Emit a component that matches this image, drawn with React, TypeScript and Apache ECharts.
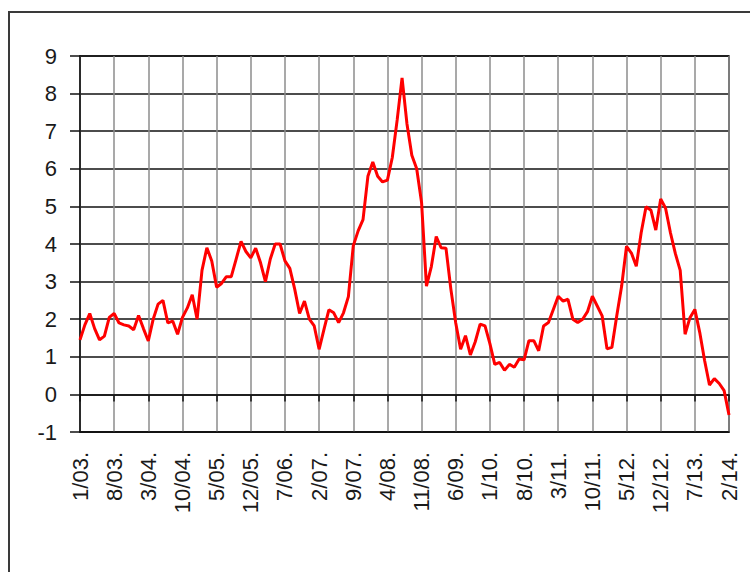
import React, { useEffect, useRef } from "react";
import * as echarts from "echarts";

// Monthly values, Jan 2003 .. Feb 2014 (134 months)
const VALUES: number[] = [
  1.45, 1.85, 2.15, 1.75, 1.45, 1.55, 2.05, 2.15, 1.9, 1.85,
  1.82, 1.72, 2.1, 1.75, 1.42, 2.0, 2.4, 2.5, 1.9, 1.95,
  1.6, 2.05, 2.3, 2.65, 2.0, 3.3, 3.9, 3.55, 2.85, 2.95,
  3.13, 3.13, 3.6, 4.07, 3.8, 3.63, 3.89, 3.5, 3.0, 3.6,
  4.0, 4.0, 3.55, 3.35, 2.8, 2.15, 2.48, 2.0, 1.82, 1.2,
  1.73, 2.25, 2.17, 1.91, 2.17, 2.6, 3.95, 4.35, 4.65, 5.8,
  6.18, 5.8, 5.65, 5.7, 6.3, 7.3, 8.42, 7.2, 6.36, 6.0,
  5.1, 2.88, 3.4, 4.2, 3.9, 3.89, 2.8, 1.9, 1.2, 1.56,
  1.05, 1.4, 1.87, 1.82, 1.35, 0.8, 0.85, 0.64, 0.8, 0.72,
  0.94, 0.92, 1.43, 1.43, 1.16, 1.82, 1.91, 2.26, 2.61, 2.48,
  2.53, 2.0, 1.91, 2.0, 2.2, 2.61, 2.35, 2.09, 1.21, 1.25,
  2.09, 2.88, 3.94, 3.76, 3.41, 4.3, 4.99, 4.9, 4.37, 5.2,
  4.95, 4.3, 3.75, 3.3, 1.6, 2.04, 2.26, 1.65, 0.9, 0.25,
  0.42, 0.29, 0.1, -0.55,
];

const TICK_LABELS: string[] = [
  "1/03.", "8/03.", "3/04.", "10/04.", "5/05.", "12/05.", "7/06.", "2/07.",
  "9/07.", "4/08.", "11/08.", "6/09.", "1/10.", "8/10.", "3/11.", "10/11.",
  "5/12.", "12/12.", "7/13.", "2/14.",
];

const START_YEAR = 2003;
const LABEL_STEP = 7;

const CATEGORIES: string[] = VALUES.map((_, i) => {
  const m = (i % 12) + 1;
  const y = (START_YEAR + Math.floor(i / 12)) % 100;
  return `${m}/${y < 10 ? "0" + y : y}.`;
});

const FONT = "'Liberation Sans', Arial, sans-serif";

export default function App() {
  const ref = useRef<HTMLDivElement>(null);
  useEffect(() => {
    if (!ref.current) return;
    const chart = echarts.init(ref.current, null, { renderer: "svg" });
    chart.setOption({
      animation: false,
      backgroundColor: "#ffffff",
      graphic: [
        {
          type: "rect",
          shape: { x: 9, y: 12, width: 800, height: 620 },
          style: { fill: "none", stroke: "#3a3a3a", lineWidth: 2 },
          z: -1,
        },
      ],
      grid: {
        left: 80,
        right: 21,
        top: 56,
        bottom: 140,
        show: true,
        borderColor: "#111",
        borderWidth: 1.5,
        backgroundColor: "transparent",
      },
      xAxis: [
        {
          type: "category",
          data: CATEGORIES,
          boundaryGap: false,
          position: "bottom",
          axisLine: { onZero: false, lineStyle: { color: "#111", width: 1.5 } },
          axisTick: { show: false },
          axisLabel: {
            interval: LABEL_STEP - 1,
            rotate: 90,
            margin: 20,
            fontSize: 22,
            fontFamily: FONT,
            color: "#1a1a1a",
            formatter: (_v: string, idx: number) =>
              TICK_LABELS[Math.round(idx / LABEL_STEP)] ?? "",
          },
          splitLine: {
            show: true,
            interval: LABEL_STEP - 1,
            lineStyle: { color: "#8c8c8c", width: 1.5 },
          },
        },
        {
          type: "category",
          data: CATEGORIES,
          boundaryGap: false,
          position: "bottom",
          axisLine: { onZero: true, lineStyle: { color: "#111", width: 1.5 } },
          axisTick: {
            show: true,
            interval: LABEL_STEP - 1,
            length: 7,
            lineStyle: { color: "#111", width: 1.5 },
          },
          axisLabel: { show: false },
          splitLine: { show: false },
        },
      ],
      yAxis: {
        type: "value",
        min: -1,
        max: 9,
        interval: 1,
        axisLine: { show: true, lineStyle: { color: "#111", width: 1.5 } },
        axisTick: { show: true, length: 10, lineStyle: { color: "#111", width: 1.5 } },
        axisLabel: {
          margin: 23,
          fontSize: 22,
          fontFamily: FONT,
          color: "#1a1a1a",
        },
        splitLine: { show: true, lineStyle: { color: "#111", width: 1.5 } },
      },
      series: [
        {
          type: "line",
          xAxisIndex: 0,
          data: VALUES,
          showSymbol: false,
          symbol: "none",
          lineStyle: { color: "#ff0000", width: 3 },
          z: 5,
        },
      ],
    });
    return () => chart.dispose();
  }, []);
  return (
    <div
      ref={ref}
      style={{ position: "absolute", left: 0, top: 0, width: 750, height: 572 }}
    />
  );
}
